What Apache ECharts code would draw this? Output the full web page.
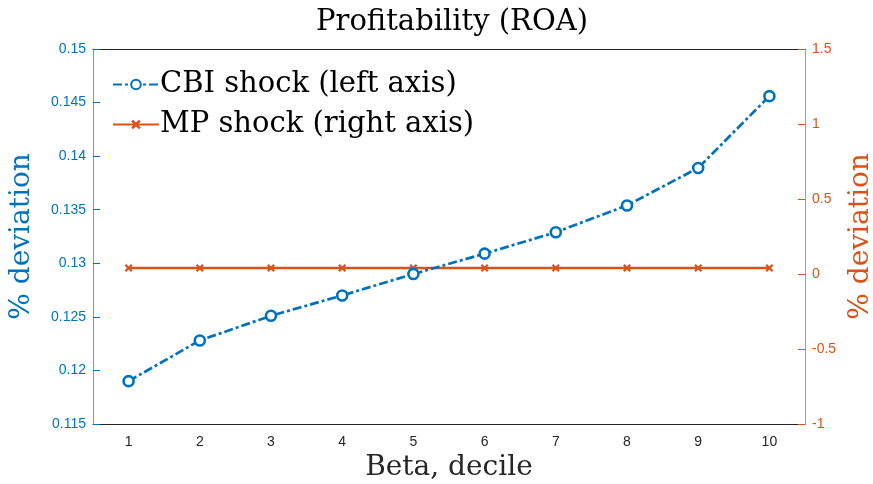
<!DOCTYPE html>
<html>
<head>
<meta charset="utf-8">
<script src="https://cdn.jsdelivr.net/npm/echarts@6/dist/echarts.min.js"></script>
<style>
  html, body { margin: 0; padding: 0; background: #fff; }
  #chart { width: 873px; height: 484px; }
</style>
</head>
<body>
<div id="chart"></div>
<script>
// Beta deciles on the x axis
const deciles = ['1', '2', '3', '4', '5', '6', '7', '8', '9', '10'];
// Response to a CBI shock (% deviation, left axis)
const cbiShock = [0.1190, 0.1228, 0.1251, 0.1270, 0.1290, 0.1309, 0.1329, 0.1354, 0.1389, 0.1456];
// Response to a monetary policy shock (% deviation, right axis)
const mpShock = [0.04, 0.04, 0.04, 0.04, 0.04, 0.04, 0.04, 0.04, 0.04, 0.04];

const BLUE = '#0072BD';
const ORANGE = '#D95319';
const SERIF = '"DejaVu Serif", "Liberation Serif", serif';
const SANS = '"Liberation Sans", Arial, sans-serif';

// small filled "x" cross used as the MP marker
const CROSS = 'path://M2,0 L5,3 L8,0 L10,2 L7,5 L10,8 L8,10 L5,7 L2,10 L0,8 L3,5 L0,2 Z';

const fmt = v => String(parseFloat(v.toFixed(3)));

const chart = echarts.init(document.getElementById('chart'), null, { renderer: 'canvas' });
chart.setOption({
  animation: false,
  backgroundColor: '#fff',
  title: {
    text: 'Profitability (ROA)',
    left: 447,
    textAlign: 'center',
    top: 3,
    textStyle: { fontFamily: SERIF, fontSize: 29, fontWeight: 'normal', color: '#000' }
  },
  grid: { left: 93, right: 68, top: 49, bottom: 60, containLabel: false, outerBoundsMode: 'none' },
  legend: {
    left: 107,
    top: 65,
    orient: 'vertical',
    itemGap: 11,
    itemWidth: 46,
    itemHeight: 12,
    textStyle: { fontFamily: SERIF, fontSize: 29, color: '#000', padding: [0, 0, 0, -4] },
    data: ['CBI shock (left axis)', 'MP shock (right axis)']
  },
  xAxis: [
    {
      type: 'category',
      data: deciles,
      position: 'bottom',
      boundaryGap: true,
      name: 'Beta, decile',
      nameLocation: 'middle',
      nameGap: 30,
      nameTextStyle: { fontFamily: SERIF, fontSize: 28, color: '#262626' },
      axisLine: { onZero: false, lineStyle: { color: '#262626', width: 1 } },
      axisTick: { inside: true, alignWithLabel: true, length: 7, lineStyle: { color: '#262626' } },
      axisLabel: { fontFamily: SANS, fontSize: 14, color: '#262626', margin: 11 },
      splitLine: { show: false }
    },
    {
      type: 'category',
      data: deciles,
      position: 'top',
      boundaryGap: true,
      axisLine: { onZero: false, lineStyle: { color: '#262626', width: 1 } },
      axisTick: { inside: true, alignWithLabel: true, length: 7, lineStyle: { color: '#262626' } },
      axisLabel: { show: false },
      splitLine: { show: false }
    }
  ],
  yAxis: [
    {
      type: 'value',
      position: 'left',
      min: 0.115,
      max: 0.15,
      interval: 0.005,
      name: '% deviation',
      nameLocation: 'middle',
      nameGap: 57,
      nameTextStyle: { fontFamily: SERIF, fontSize: 28, color: BLUE },
      axisLine: { show: true, onZero: false, lineStyle: { color: '#5fa3d8', width: 1 } },
      axisTick: { show: true, inside: true, length: 7, lineStyle: { color: BLUE } },
      axisLabel: { fontFamily: SANS, fontSize: 14, color: BLUE, margin: 7, formatter: fmt },
      splitLine: { show: false }
    },
    {
      type: 'value',
      position: 'right',
      min: -1,
      max: 1.5,
      interval: 0.5,
      name: '% deviation',
      nameLocation: 'middle',
      nameGap: 35,
      nameTextStyle: { fontFamily: SERIF, fontSize: 28, color: ORANGE },
      axisLine: { show: true, onZero: false, lineStyle: { color: '#e8875a', width: 1 } },
      axisTick: { show: true, inside: true, length: 7, lineStyle: { color: ORANGE } },
      axisLabel: { fontFamily: SANS, fontSize: 14, color: ORANGE, margin: 7, formatter: fmt },
      splitLine: { show: false }
    }
  ],
  series: [
    {
      name: 'CBI shock (left axis)',
      type: 'line',
      xAxisIndex: 0,
      yAxisIndex: 0,
      data: cbiShock,
      symbol: 'circle',
      symbolSize: 10,
      itemStyle: { color: '#fff', borderColor: BLUE, borderWidth: 2.6 },
      lineStyle: { color: BLUE, width: 2.7, type: [9, 3, 3, 3] },
      z: 3
    },
    {
      name: 'MP shock (right axis)',
      type: 'line',
      xAxisIndex: 0,
      yAxisIndex: 1,
      data: mpShock,
      symbol: CROSS,
      symbolSize: 8,
      itemStyle: { color: ORANGE },
      lineStyle: { color: ORANGE, width: 2.7 },
      z: 2
    }
  ]
});
</script>
</body>
</html>
